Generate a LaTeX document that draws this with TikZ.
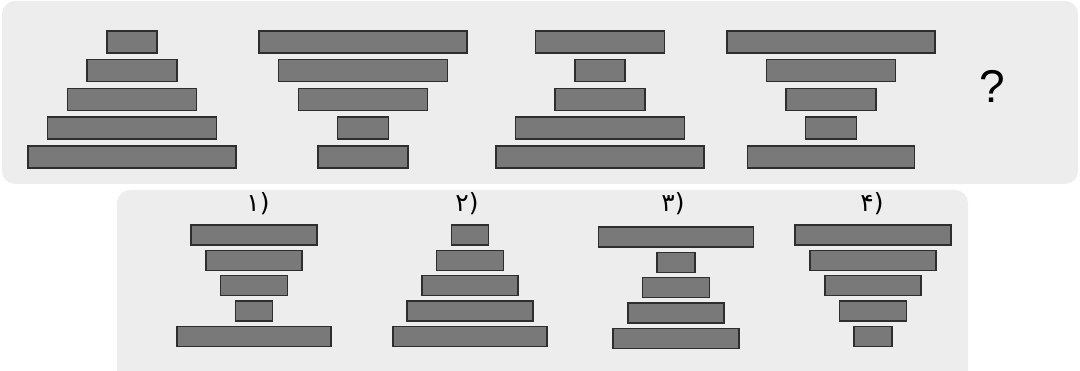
\documentclass[tikz,border=0pt]{standalone}
\usepackage{fontspec}
\newfontfamily\persfont{DejaVu Sans}
\newfontfamily\qfont{Liberation Sans}
\definecolor{panelgray}{HTML}{EDEDED}
\definecolor{barfill}{HTML}{797979}
\definecolor{barline}{HTML}{2E2E2E}
\tikzset{
  bigbar/.style={draw=barline, fill=barfill, line width=1.5pt, inner sep=0pt, minimum height=22pt},
  smallbar/.style={draw=barline, fill=barfill, line width=1.4pt, inner sep=0pt, minimum height=20pt},
  panel/.style={fill=panelgray, rounded corners=13pt},
  optlabel/.style={font=\persfont\fontsize{25}{25}\selectfont, inner sep=0pt, text=black},
  qmark/.style={font=\qfont\fontsize{46}{46}\selectfont, inner sep=0pt}
}
\begin{document}
\begin{tikzpicture}[x=1pt,y=-1pt]
\useasboundingbox (0,0) rectangle (1080,371);
\clip (0,0) rectangle (1080,371);
% panels
\fill[panel] (2,1) rectangle (1078,184);
\fill[panel] (117,190) rectangle (968,390);
% top row figures
\foreach \w [count=\i] in {50,90,129,169,208}
  \node[bigbar, minimum width=\w pt] (fa\i) at (132,{42+28.7*(\i-1)}) {};
\foreach \w [count=\i] in {208,169,129,51,90}
  \node[bigbar, minimum width=\w pt] (fb\i) at (363,{42+28.7*(\i-1)}) {};
\foreach \w [count=\i] in {129,50,90,169,208}
  \node[bigbar, minimum width=\w pt] (fc\i) at (600,{42+28.7*(\i-1)}) {};
\foreach \w [count=\i] in {208,129,90,51,167}
  \node[bigbar, minimum width=\w pt] (fd\i) at (831,{42+28.7*(\i-1)}) {};
\node[qmark] (q) at (992,86) {?};
% answer options
\foreach \w [count=\i] in {126,96,67,37,154}
  \node[smallbar, minimum width=\w pt] (oa\i) at (254,{235+25.4*(\i-1)}) {};
\foreach \w [count=\i] in {37,67,96,126,154}
  \node[smallbar, minimum width=\w pt] (ob\i) at (470,{235+25.4*(\i-1)}) {};
\foreach \w [count=\i] in {155,38,67,96,126}
  \node[smallbar, minimum width=\w pt] (oc\i) at (676,{237+25.4*(\i-1)}) {};
\foreach \w [count=\i] in {156,126,96,67,38}
  \node[smallbar, minimum width=\w pt] (od\i) at (873,{235+25.4*(\i-1)}) {};
\node[optlabel] (la) at (258,204) {۱)};
\node[optlabel] (lb) at (467,204) {۲)};
\node[optlabel] (lc) at (673,204) {۳)};
\node[optlabel] (ld) at (872,204) {۴)};
\end{tikzpicture}
\end{document}
